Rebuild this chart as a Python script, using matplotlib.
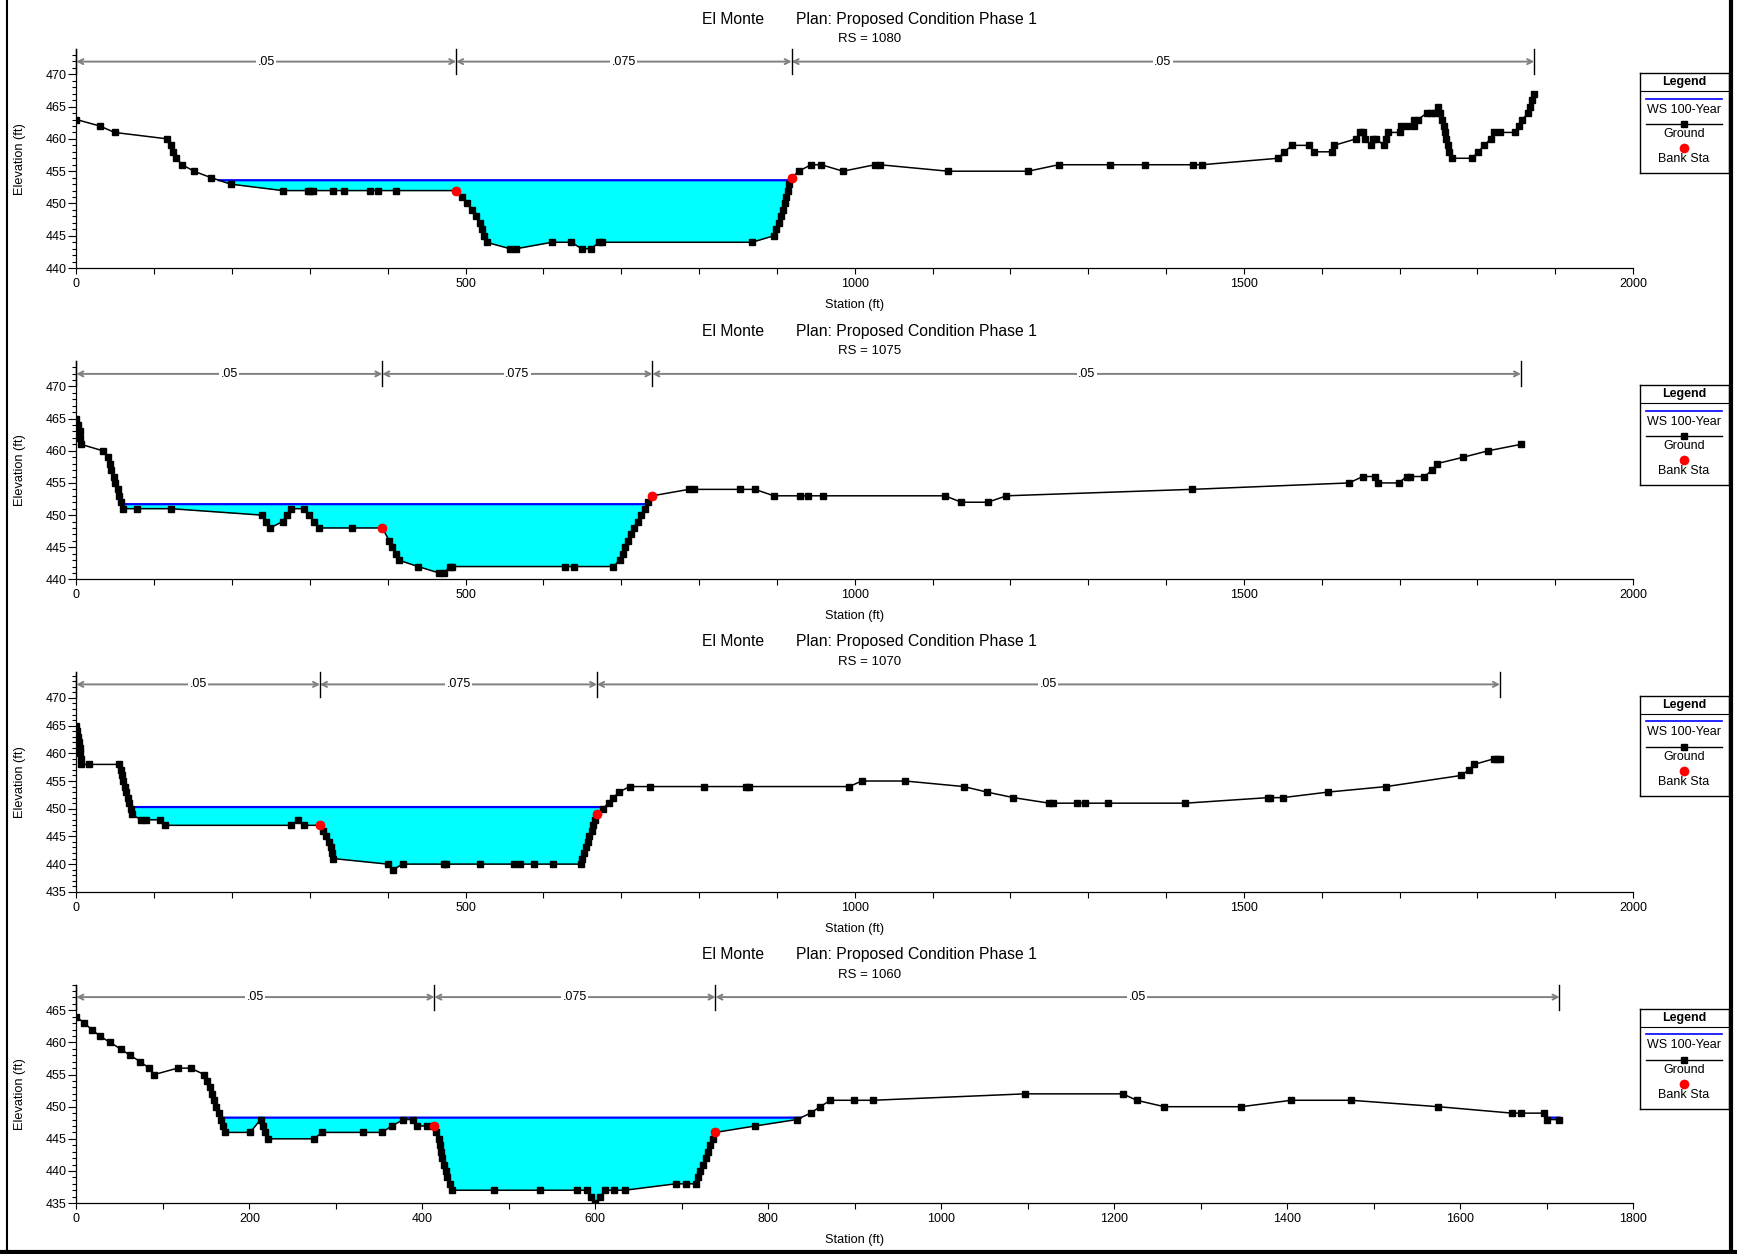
import numpy as np
import matplotlib
matplotlib.use('Agg')
import matplotlib.pyplot as plt
from matplotlib.lines import Line2D
from matplotlib.ticker import MultipleLocator

plt.rcParams['font.family'] = ['Liberation Sans', 'DejaVu Sans']

RIVER = 'El Monte'
PLAN = 'Plan: Proposed Condition Phase 1'
PROFILE = 'WS 100-Year'

# --- data (station ft, elevation ft) ---
river_stations = ['1080', '1075', '1070', '1060']

ground_1080 = [(0, 463), (30, 462), (49, 461), (117, 460), (121, 459), (124, 458), (128, 457), (136, 456),
               (151, 455), (173, 454), (198, 453), (265, 452), (298, 452), (300, 452), (304, 452), (330, 452),
               (344, 452), (377, 452), (387, 452), (411, 452), (488, 452), (495, 451), (502, 450), (508, 449),
               (513, 448), (518, 447), (521, 446), (524, 445), (527, 444), (557, 443), (565, 443), (611, 444),
               (636, 444), (649, 443), (661, 443), (672, 444), (675, 444), (868, 444), (896, 445), (899, 446),
               (903, 447), (905, 448), (908, 449), (910, 450), (912, 451), (914, 452), (916, 453), (919, 454),
               (928, 455), (944, 456), (957, 456), (985, 455), (1026, 456), (1032, 456), (1120, 455), (1223, 455),
               (1262, 456), (1328, 456), (1373, 456), (1435, 456), (1446, 456), (1544, 457), (1552, 458),
               (1562, 459), (1584, 459), (1590, 458), (1613, 458), (1616, 459), (1644, 460), (1649, 461),
               (1653, 461), (1656, 460), (1663, 459), (1666, 460), (1670, 460), (1680, 459), (1683, 460),
               (1685, 461), (1700, 461), (1702, 462), (1709, 462), (1718, 462), (1719, 463), (1724, 463),
               (1735, 464), (1740, 464), (1745, 464), (1750, 465), (1752, 464), (1755, 463), (1757, 462),
               (1758, 461), (1760, 460), (1762, 459), (1764, 458), (1767, 457), (1793, 457), (1801, 458),
               (1809, 459), (1817, 460), (1821, 461), (1829, 461), (1849, 461), (1854, 462), (1858, 463),
               (1865, 464), (1868, 465), (1870, 466), (1873, 467)]

ground_1075 = [(0, 465), (2, 464), (4, 463), (5, 462), (6, 461), (34, 460), (40, 459), (43, 458), (45, 457),
               (48, 456), (50, 455), (53, 454), (55, 453), (57, 452), (60, 451), (78, 451), (121, 451),
               (238, 450), (244, 449), (249, 448), (265, 449), (270, 450), (276, 451), (292, 451), (299, 450),
               (305, 449), (312, 448), (354, 448), (393, 448), (402, 446), (406, 445), (411, 444), (414, 443),
               (439, 442), (466, 441), (472, 441), (480, 442), (483, 442), (628, 442), (639, 442), (690, 442),
               (698, 443), (702, 444), (705, 445), (709, 446), (712, 447), (716, 448), (721, 449), (726, 450),
               (730, 451), (735, 452), (740, 453), (787, 454), (793, 454), (852, 454), (872, 454), (896, 453),
               (930, 453), (940, 453), (959, 453), (1116, 453), (1137, 452), (1171, 452), (1195, 453),
               (1433, 454), (1635, 455), (1653, 456), (1669, 456), (1673, 455), (1699, 455), (1709, 456),
               (1714, 456), (1732, 456), (1742, 457), (1748, 458), (1782, 459), (1814, 460), (1856, 461)]

ground_1070 = [(0, 465), (1, 464), (2, 463), (3, 462), (4, 461), (5, 460), (5.5, 459), (6, 458), (16, 458),
               (55, 458), (57, 457), (59, 456), (60, 455), (62, 454), (64, 453), (66, 452), (68, 451), (70, 450),
               (71, 449), (83, 448), (89, 448), (108, 448), (114, 447), (276, 447), (285, 448), (292, 447),
               (313, 447), (317, 446), (321, 445), (324, 444), (327, 443), (329, 442), (330, 441), (400, 440),
               (407, 439), (419, 440), (472, 440), (475, 440), (518, 440), (562, 440), (570, 440), (588, 440),
               (613, 440), (648, 440), (650, 441), (652, 442), (655, 443), (657, 444), (659, 445), (662, 446),
               (664, 447), (666, 448), (669, 449), (676, 450), (684, 451), (690, 452), (697, 453), (711, 454),
               (737, 454), (807, 454), (860, 454), (864, 454), (993, 454), (1009, 455), (1065, 455), (1140, 454),
               (1170, 453), (1204, 452), (1250, 451), (1255, 451), (1285, 451), (1296, 451), (1326, 451),
               (1425, 451), (1531, 452), (1533, 452), (1550, 452), (1608, 453), (1683, 454), (1779, 456),
               (1789, 457), (1796, 458), (1821, 459), (1825, 459), (1829, 459)]

ground_1060 = [(0, 464), (9, 463), (18, 462), (27, 461), (39, 460), (51, 459), (62, 458), (74, 457), (84, 456),
               (90, 455), (117, 456), (132, 456), (148, 455), (151, 454), (154, 453), (157, 452), (159, 451),
               (162, 450), (165, 449), (167, 448), (169, 447), (172, 446), (201, 446), (213, 448), (216, 447),
               (218, 446), (221, 445), (275, 445), (284, 446), (331, 446), (353, 446), (365, 447), (378, 448),
               (389, 448), (394, 447), (405, 447), (414, 447), (416, 446), (419, 445), (420, 444), (422, 443),
               (423, 442), (425, 441), (427, 440), (429, 439), (432, 438), (434, 437), (483, 437), (536, 437),
               (579, 437), (590, 437), (595, 436), (600, 435), (606, 436), (611, 437), (622, 437), (634, 437),
               (693, 438), (705, 438), (716, 438), (719, 439), (721, 440), (725, 441), (728, 442), (730, 443),
               (733, 444), (736, 445), (739, 446), (785, 447), (833, 448), (849, 449), (860, 450), (872, 451),
               (899, 451), (921, 451), (1097, 452), (1210, 452), (1226, 451), (1258, 450), (1347, 450),
               (1405, 451), (1474, 451), (1575, 450), (1660, 449), (1670, 449), (1697, 449), (1700, 448),
               (1715, 448)]

ground_pts = [ground_1080, ground_1075, ground_1070, ground_1060]
ws_100yr = [453.6, 451.7, 450.3, 448.3]
bank_sta = [(488, 919), (393, 740), (313, 669), (414, 739)]
mannings_labels = ['.05', '.075', '.05']

# --- layout (pixels of the 1737 x 1254 output) ---
W, H = 1737, 1254
ax_left, ax_right = 76.4, 1633.0
ax_tops = [49.1, 361.4, 671.9, 984.6]
ax_bottoms = [268.1, 579.4, 891.8, 1203.1]
x_max = [2000, 2000, 2000, 1800]
x_label_step = [500, 500, 500, 200]
y_limits = [(440, 473.9), (440, 473.9), (435, 474.7), (435, 469.0)]


def px_box(left, top, right, bottom):
    return [left / W, 1 - bottom / H, (right - left) / W, (bottom - top) / H]


fig = plt.figure(figsize=(W / 100, H / 100), dpi=100)

for i, rs in enumerate(river_stations):
    pts = np.array(ground_pts[i], dtype=float)
    sta, elev = pts[:, 0], pts[:, 1]
    ws = ws_100yr[i]
    top, bottom = ax_tops[i], ax_bottoms[i]
    ax_h = bottom - top

    ax = fig.add_axes(px_box(ax_left, top, ax_right, bottom))

    # water below the WS elevation
    ax.fill_between(sta, elev, ws, where=elev < ws, interpolate=True,
                    color='#00ffff', lw=0, zorder=1)
    xs = np.linspace(sta[0], sta[-1], 20000)
    gs = np.interp(xs, sta, elev)
    ax.plot(xs, np.where(gs < ws, ws, np.nan), color='#0000ff', lw=1.6, zorder=2)

    # ground and bank stations
    ax.plot(sta, elev, color='black', lw=1.1, marker='s', ms=4.2, zorder=3)
    banks = np.array(bank_sta[i], dtype=float)
    ax.plot(banks, np.interp(banks, sta, elev), 'o', color='red', ms=7, mec='none', zorder=4)

    # Manning's n arrows along the top
    trans = ax.get_xaxis_transform()
    breaks = [sta[0], banks[0], banks[1], sta[-1]]
    y_arrow = 1 - 12.5 / ax_h
    y_tick = 1 - 25 / ax_h
    for b in breaks:
        ax.plot([b, b], [y_tick, 1], transform=trans, color='black', lw=1, clip_on=False, zorder=6)
    for a, b, lab in zip(breaks[:-1], breaks[1:], mannings_labels):
        ax.annotate('', xy=(b, y_arrow), xytext=(a, y_arrow), xycoords=trans, textcoords=trans,
                    arrowprops=dict(arrowstyle='<->,head_length=0.35,head_width=0.18',
                                    color='#808080', lw=1.4, shrinkA=0, shrinkB=0), zorder=5)
        ax.text((a + b) / 2, y_arrow, lab, transform=trans, ha='center', va='center', fontsize=9,
                bbox=dict(facecolor='white', edgecolor='none', pad=1), zorder=7)

    # axes
    ax.set_xlim(0, x_max[i])
    ax.set_ylim(*y_limits[i])
    ax.xaxis.set_major_locator(MultipleLocator(x_label_step[i]))
    ax.xaxis.set_minor_locator(MultipleLocator(100))
    ax.yaxis.set_major_locator(MultipleLocator(5))
    ax.yaxis.set_minor_locator(MultipleLocator(1))
    ax.tick_params(axis='x', which='both', length=4, width=0.8, labelsize=9, pad=3)
    ax.tick_params(axis='y', which='major', length=6, width=0.8, labelsize=9, pad=1)
    ax.tick_params(axis='y', which='minor', length=3, width=0.8)
    for s in ('top', 'right'):
        ax.spines[s].set_visible(False)
    for s in ('left', 'bottom'):
        ax.spines[s].set_linewidth(0.9)

    ax.set_xlabel('Station (ft)', fontsize=9.2)
    ax.xaxis.set_label_coords(0.5, -31 / ax_h)
    ax.set_ylabel('Elevation (ft)', fontsize=9.2)
    ax.yaxis.set_label_coords((26 - ax_left) / (ax_right - ax_left), 0.5)

    # titles
    fig.text(764.4 / W, 1 - (top - 30) / H, RIVER, ha='right', va='center', fontsize=11.3)
    fig.text(796.5 / W, 1 - (top - 30) / H, PLAN, ha='left', va='center', fontsize=11.3)
    fig.text(869.6 / W, 1 - (top - 10) / H, 'RS = ' + rs, ha='center', va='center', fontsize=9.5)

    # legend box
    lg = fig.add_axes(px_box(1639.5, top + 24, 1728.5, top + 124))
    lg.set_xlim(0, 1)
    lg.set_ylim(100, 0)
    lg.set_xticks([])
    lg.set_yticks([])
    for s in lg.spines.values():
        s.set_linewidth(1.0)
    lg.text(0.5, 9, 'Legend', ha='center', va='center', fontsize=9, fontweight='bold')
    lg.axhline(18, color='black', lw=0.8)
    lg.plot([0.07, 0.93], [25.5, 25.5], color='#0000ff', lw=1.2)
    lg.text(0.5, 36.5, PROFILE, ha='center', va='center', fontsize=9)
    lg.plot([0.07, 0.93], [51, 51], color='black', lw=1)
    lg.plot([0.5], [51], 's', color='black', ms=4.2)
    lg.text(0.5, 61, 'Ground', ha='center', va='center', fontsize=9)
    lg.plot([0.5], [75], 'o', color='red', ms=7, mec='none')
    lg.text(0.5, 86, 'Bank Sta', ha='center', va='center', fontsize=9)

# page frame
fig.add_artist(Line2D([6.6 / W, 6.6 / W], [0, 1], transform=fig.transFigure, color='black', lw=1.5))
fig.add_artist(Line2D([1731 / W, 1731 / W], [0, 1], transform=fig.transFigure, color='black', lw=3))
fig.add_artist(Line2D([0, 1], [1 - 1252 / H, 1 - 1252 / H], transform=fig.transFigure, color='black', lw=3))

fig.savefig('out.png', dpi=100)
